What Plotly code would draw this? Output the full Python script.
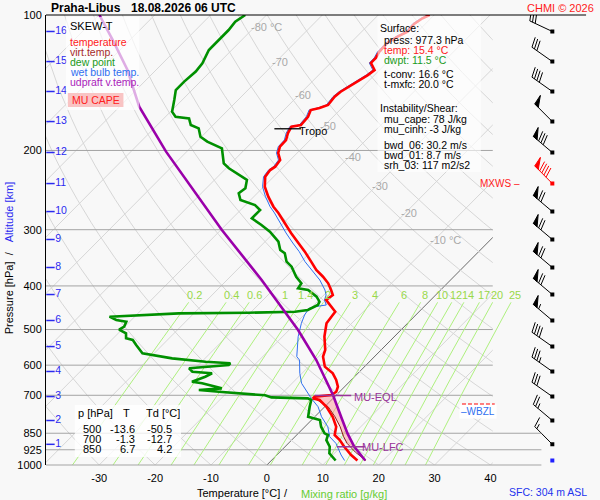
import math
import numpy as np
import plotly.graph_objects as go

# ---- sounding Praha-Libus 18.08.2026 06 UTC (p in hPa, t in degC) ----
temp_p = [100, 101.7, 104.7, 108.9, 111.7, 115.4, 120.7, 124.6, 127.8, 132.5,
          136.0, 139.5, 143.1, 148.1, 151.9, 158.5, 160.9, 162.6, 168.3, 175.6,
          177.1, 182.9, 189.6, 196.2, 202.6, 210.0, 217.3, 221.1, 228.8, 240.8,
          253.4, 266.7, 275.4, 289.8, 305.0, 321.1, 335.7, 353.3, 368.7, 381.6,
          394.7, 408.4, 419.0, 429.9, 444.9, 456.4, 468.2, 484.3, 518.6, 555.0,
          574.4, 604.6, 625.5, 647.3, 669.9, 687.4, 699.1, 705.2, 711.1, 717.2,
          742.1, 781.1, 822.1, 857.7, 880.0, 910.8, 950.1, 977.3]
temp_t = [-50.8, -51.5, -52.0, -51.8, -52.7, -53.4, -53.3, -52.8, -52.8, -50.9,
          -51.2, -51.8, -52.5, -53.1, -53.3, -53.0, -54.0, -55.2, -54.5, -54.3,
          -55.7, -55.2, -54.3, -54.2, -53.4, -51.8, -51.5, -51.8, -51.5, -49.8,
          -47.4, -44.7, -42.7, -39.8, -36.9, -33.8, -31.1, -28.2, -25.8, -23.4,
          -21.3, -19.6, -18.4, -18.7, -16.6, -15.0, -14.8, -14.5, -12.5, -10.0,
          -9.2, -7.1, -4.5, -2.7, -1.2, -0.6, -0.9, -3.6, -3.6, -2.1,
          0.3, 3.2, 5.6, 6.8, 8.6, 10.6, 13.3, 15.4]

dew_p = [100, 103.5, 108.0, 113.6, 119.6, 128.0, 133.6, 140.6, 146.8, 154.5,
         164.1, 168.3, 169.7, 175.6, 178.6, 186.4, 191.2, 197.8, 213.6, 219.1,
         226.7, 232.6, 242.7, 249.0, 257.7, 264.4, 271.3, 283.1, 292.9, 303.1,
         319.0, 332.8, 338.5, 353.3, 362.5, 381.6, 394.7, 404.9, 408.4, 422.7,
         433.6, 441.0, 452.5, 456.4, 458.8, 460.2, 468.2, 476.2, 480.4, 492.8,
         500.0, 509.7, 522.9, 527.5, 541.2, 564.7, 579.4, 589.5, 594.3, 599.5,
         609.7, 620.4, 625.5, 636.5, 653.0, 658.4, 675.5, 681.3, 687.4, 693.2,
         700.0, 707.5, 711.1, 717.2, 742.1, 781.1, 794.3, 822.1, 850.6, 857.7,
         880.0, 910.8, 941.9, 977.3]
dew_t = [-83.8, -84.4, -84.1, -84.1, -84.1, -82.9, -82.6, -82.9, -82.9, -81.4,
         -79.7, -78.2, -75.5, -74.0, -72.0, -70.2, -68.1, -64.3, -61.3, -59.5,
         -56.6, -54.2, -53.0, -53.3, -51.8, -48.3, -46.5, -46.5, -43.6, -40.9,
         -37.6, -35.8, -34.4, -32.6, -30.8, -28.2, -26.1, -25.8, -23.7, -21.0,
         -19.6, -19.3, -20.2, -22.2, -30.3, -42.7, -54.5, -52.7, -50.6, -50.1,
         -50.5, -48.6, -47.7, -46.2, -44.7, -42.1, -35.9, -29.3, -24.6, -24.6,
         -31.1, -29.9, -26.1, -26.7, -28.2, -26.1, -21.7, -25.5, -21.6, -17.8,
         -12.7, -11.2, -4.5, -3.6, -2.7, -1.2, 1.5, 2.9, 4.7, 5.6,
         6.2, 8.0, 9.1, 11.5]

wet_p = [100, 101.7, 104.7, 108.9, 111.7, 115.4, 120.7, 124.6, 127.8, 132.5,
         136.0, 139.5, 143.1, 148.1, 151.9, 158.5, 160.9, 162.6, 168.3, 175.6,
         177.1, 182.9, 189.6, 196.2, 202.6, 210.0, 217.3, 221.1, 228.8, 240.8,
         253.4, 266.7, 275.4, 289.8, 305.0, 321.1, 335.7, 353.3, 368.7,
         388.0, 408.4, 419.0, 429.9, 441.0, 444.9, 448.7, 464.2, 484.3, 518.6,
         574.4, 584.5, 625.5, 658.4, 699.1, 711.1, 742.1, 781.1, 822.1, 865.2,
         895.1, 950.1, 977.3]
wet_t = [-51.1, -51.8, -52.3, -52.1, -53.0, -53.7, -53.6, -53.1, -53.1, -51.2,
         -51.5, -52.1, -52.8, -53.4, -53.6, -53.3, -54.3, -55.5, -54.8, -54.6,
         -56.0, -55.5, -54.6, -54.5, -53.7, -52.1, -51.8, -52.1, -51.8, -50.2,
         -47.9, -45.3, -43.4, -40.6, -37.8, -34.8, -32.1, -29.3, -26.6,
         -23.4, -20.7, -19.6, -19.0, -17.8, -19.6, -20.3, -19.9, -19.0, -17.2,
         -13.9, -12.8, -10.4, -8.3, -4.8, -3.9, -1.2, 1.2, 4.1, 6.2,
         8.5, 11.5, 13.1]

virt_p = [699.1, 705.2, 711.1, 742.1, 781.1, 822.1, 865.2, 895.1, 935.7, 977.3]
virt_t = [-0.8, -3.4, -3.3, 0.6, 3.6, 6.3, 8.7, 10.5, 13.5, 16.9]

parcel_p = [100, 113.6, 132.5, 159.8, 201.2, 221.1, 300.4, 388.0, 501.2, 584.5,
            664.0, 699.1, 781.1, 850.6, 910.8, 977.3]
parcel_t = [-109.9, -103.1, -95.1, -86.5, -73.7, -68.1, -49.8, -33.8, -18.4, -9.8,
            -3.3, -0.6, 4.7, 8.8, 12.4, 16.8]

# significant levels
tropo_p, tropo_t = 179.0, -56.0
eql_p, eql_t = 701.0, -0.5
lfc_p, lfc_t = 911.0, 11.8
fzl_p = 733.0
wbzl_p = 759.0
sfc_p = 977.3

# winds at every km of altitude
alt_km = [16, 15, 14, 13, 12, 11, 10, 9, 8, 7, 6, 5, 4, 3, 2, 1]
alt_p = [108.8, 126.9, 147.9, 172.5, 202.1, 236.9, 273.4, 315.4, 364.0, 418.0,
         477.4, 545.5, 619.7, 704.6, 796.4, 899.6]
wind_dir = [295, 305, 305, 315, 310, 315, 310, 310, 310, 310, 310, 305, 305, 305, 310, 315]
wind_kt = [30, 30, 40, 50, 80, 90, 70, 70, 70, 70, 55, 40, 35, 30, 25, 15]
mxws_km = 11

# table and surface box
table_p = [500, 700, 850]
table_t = [-13.6, -1.3, 6.7]
table_td = [-50.5, -12.7, 4.2]
surface_lines = [("Surface:", "black", 0), ("press: 977.3 hPa", "black", 1),
                 ("temp: 15.4 °C", "#ff1a1a", 1), ("dwpt: 11.5 °C", "#1a9a1a", 1),
                 ("t-conv: 16.6 °C", "black", 1), ("t-mxfc: 20.0 °C", "black", 1),
                 ("Instability/Shear:", "black", 0), ("mu_cape: 78 J/kg", "black", 1),
                 ("mu_cinh: -3 J/kg", "black", 1), ("bwd_06: 30.2 m/s", "black", 1),
                 ("bwd_01: 8.7 m/s", "black", 1), ("srh_03: 117 m2/s2", "black", 1)]
surface_y = [27.7, 40, 50, 60, 74, 84.3, 108.3, 119.3, 129.3, 145, 155, 165]

# diagram furniture
p_levels = [100, 200, 300, 400, 500, 600, 700, 850, 925, 1000]
t_ticks = [-30, -20, -10, 0, 10, 20, 30, 40]
iso_t = list(range(-120, 50, 10))
theta_c = list(range(-30, 190, 10))
mix_w = [0.2, 0.4, 0.6, 1, 1.4, 2, 3, 4, 6, 8, 10, 12, 14, 17, 20, 25]
iso_lab_t = [-80, -70, -60, -50, -40, -30, -20, -10]
iso_lab_p = [106.3, 127.2, 150.6, 176.5, 206.8, 239.9, 275.4, 316.2]

# ---- geometry (page pixels) ----
W, H = 600, 500
L, TOP, BOT = 46, 15, 465
PXDEG = 5.63
X_ZERO = 268.5
K = 450 / PXDEG          # skew in degC per pressure decade (45 deg isotherms)
BG = '#f8f8f8'
FONT = 'Liberation Sans, Arial, sans-serif'
GRAY = '#a4a4a4'
LIGHT = '#d6d6d6'


def xs(t, p):
    return t + K * math.log10(1000.0 / p)


def xd(pix):
    return (pix - X_ZERO) / PXDEG


def px(x):
    return (x - L) / (W - L)


def py(y):
    return (BOT - y) / (BOT - TOP)


def skewed(ts, ps):
    return [xs(t, p) for t, p in zip(ts, ps)]


def dewpoint_of_mix(w, p):
    e = w * p / (622.0 + w)
    a = math.log(e / 6.112)
    return 243.5 * a / (17.67 - a)


fig = go.Figure()

# isotherms and dry adiabats (clipped to main box)
for t in iso_t:
    fig.add_trace(go.Scatter(x=[xs(t, 1000), xs(t, 100)], y=[1000, 100], mode='lines',
                             line=dict(color='#6a6a6a' if t == 0 else LIGHT, width=1),
                             hoverinfo='skip'))
pp = np.geomspace(1000, 100, 40)
for th in theta_c:
    tt = [(th + 273.15) * (p / 1000.0) ** 0.2857 - 273.15 for p in pp]
    fig.add_trace(go.Scatter(x=skewed(tt, pp), y=pp, mode='lines',
                             line=dict(color=LIGHT, width=1), hoverinfo='skip'))


# everything else on the wider x3 subplot
def add3(**kw):
    fig.add_trace(go.Scatter(xaxis='x3', yaxis='y', hoverinfo='skip', **kw))


for p in p_levels[1:-1]:
    right = 545 if p >= 850 else 496
    add3(x=[xd(L), xd(right)], y=[p, p], mode='lines', line=dict(color=GRAY, width=1))

pm = np.geomspace(1000, 435, 20)
for w in mix_w:
    add3(x=[xs(dewpoint_of_mix(w, p), p) for p in pm], y=pm, mode='lines',
         line=dict(color='#aef07e', width=1))

# MU CAPE area between parcel and virtual temperature
pa = [(p, t) for p, t in zip(parcel_p, parcel_t) if eql_p - 2 <= p <= lfc_p]
va = [(p, t) for p, t in zip(virt_p, virt_t) if eql_p <= p <= lfc_p]
poly = pa + [(lfc_p, lfc_t)] + va[::-1]
add3(x=[xs(t, p) for p, t in poly], y=[p for p, t in poly], mode='lines', fill='toself',
     fillcolor='rgba(255,140,140,0.45)', line=dict(width=0))

add3(x=skewed(wet_t, wet_p), y=wet_p, mode='lines', line=dict(color='#2f6ff0', width=1))
add3(x=skewed(virt_t, virt_p), y=virt_p, mode='lines', line=dict(color='#8b1a1a', width=1))
add3(x=skewed(dew_t, dew_p), y=dew_p, mode='lines', line=dict(color='#009000', width=2.6))
add3(x=skewed(temp_t, temp_p), y=temp_p, mode='lines', line=dict(color='#ff0000', width=2.6))
add3(x=skewed(parcel_t, parcel_p), y=parcel_p, mode='lines', line=dict(color='#9a00aa', width=2.6))

# freezing level dash
add3(x=[xd(465), xd(498)], y=[fzl_p, fzl_p], mode='lines',
     line=dict(color='#ff0000', width=1.5, dash='4px,2px'))

# level markers
add3(x=[xs(tropo_t, tropo_p)], y=[tropo_p], mode='markers',
     marker=dict(symbol='line-ew', size=19, line=dict(color='black', width=1.3)))
add3(x=[xs(eql_t, eql_p)], y=[eql_p], mode='markers',
     marker=dict(symbol='line-ew', size=26, line=dict(color='#993399', width=1.5)))
add3(x=[xs(lfc_t, lfc_p)], y=[lfc_p], mode='markers',
     marker=dict(symbol='line-ew', size=20, line=dict(color='#993399', width=1.5)))

# altitude ticks
add3(x=[xd(50.5)] * len(alt_km), y=alt_p, mode='markers+text',
     marker=dict(symbol='line-ew', size=6, line=dict(color='#2a2af0', width=1.5)),
     text=[str(k) for k in alt_km], textposition='middle right',
     textfont=dict(color='#2a2af0', size=10.5))

# ---- wind barbs on x2/y2 (1 unit = 450 px on both axes) ----
U = 1 / 450.0
BX = 56 * U


def barb(p, d, kt):
    ay = math.log10(p)
    sx, sy = math.sin(math.radians(d)), math.cos(math.radians(d))

    def pt(a, q):
        e = sx * a + sy * q
        n = sy * a - sx * q
        return BX + e * U, ay - n * U

    segs = [[pt(0, 0), pt(25, 0)]]
    flags = []
    pos = 25
    n50, rest = divmod(int(round(kt / 5.0) * 5), 50)
    n10, n5 = divmod(rest, 10)
    for _ in range(n50):
        flags.append([pt(pos, 0), pt(pos + 2, 10), pt(pos - 5, 0)])
        pos -= 7
    for _ in range(n10):
        segs.append([pt(pos, 0), pt(pos + 3, 10)])
        pos -= 3
    if n5:
        if pos == 25:
            pos -= 3
        segs.append([pt(pos, 0), pt(pos + 1.5, 5)])
    return segs, flags


for km, p, d, kt in zip(alt_km, alt_p, wind_dir, wind_kt):
    col = '#ff0000' if km == mxws_km else 'black'
    segs, flags = barb(p, d, kt)
    lx, ly = [], []
    for s in segs:
        lx += [s[0][0], s[1][0], None]
        ly += [s[0][1], s[1][1], None]
    fig.add_trace(go.Scatter(x=lx, y=ly, xaxis='x2', yaxis='y2', mode='lines',
                             line=dict(color=col, width=1), hoverinfo='skip'))
    if flags:
        fx, fy = [], []
        for f in flags:
            fx += [q[0] for q in f] + [f[0][0], None]
            fy += [q[1] for q in f] + [f[0][1], None]
        fig.add_trace(go.Scatter(x=fx, y=fy, xaxis='x2', yaxis='y2', mode='lines',
                                 fill='toself', fillcolor=col, line=dict(color=col, width=1),
                                 hoverinfo='skip'))
    fig.add_trace(go.Scatter(x=[BX], y=[math.log10(p)], xaxis='x2', yaxis='y2', mode='markers',
                             marker=dict(symbol='square', size=4, color=col), hoverinfo='skip'))
fig.add_trace(go.Scatter(x=[BX], y=[math.log10(sfc_p)], xaxis='x2', yaxis='y2', mode='markers',
                         marker=dict(symbol='square', size=4, color='#2020ff'), hoverinfo='skip'))

# ---- shapes: frame lines and text boxes ----
shapes = [
    dict(type='line', xref='paper', yref='paper', x0=px(L), x1=px(590), y0=1, y1=1,
         line=dict(color='black', width=1)),
    dict(type='line', xref='paper', yref='paper', x0=px(L), x1=px(545), y0=0, y1=0,
         line=dict(color=GRAY, width=1)),
    dict(type='rect', xref='paper', yref='paper', x0=px(66), x1=px(140), y0=py(110), y1=py(17),
         fillcolor='rgba(255,255,255,0.68)', line=dict(width=0), layer='above'),
    dict(type='rect', xref='paper', yref='paper', x0=px(68), x1=px(124), y0=py(107), y1=py(93),
         fillcolor='#f9c4c4', line=dict(width=0), layer='above'),
    dict(type='rect', xref='paper', yref='paper', x0=px(380), x1=px(484), y0=py(172), y1=py(16),
         fillcolor='rgba(255,255,255,0.62)', line=dict(width=0), layer='above'),
    dict(type='rect', xref='paper', yref='paper', x0=px(75), x1=px(182), y0=py(457), y1=py(405),
         fillcolor='rgba(255,255,255,0.8)', line=dict(width=0), layer='above'),
]

anns = []


def note(x, y, text, color='black', size=10.5, xanchor='left', **kw):
    anns.append(dict(xref='paper', yref='paper', x=px(x), y=py(y), text=text, showarrow=False,
                     xanchor=xanchor, yanchor='middle', font=dict(color=color, size=size), **kw))


def note_p(x, p, text, color, size=11, xref='x3', xanchor='left', xshift=0, yshift=0, **kw):
    anns.append(dict(xref=xref, yref='y', x=x, y=math.log10(p), text=text, showarrow=False,
                     xanchor=xanchor, yanchor='middle', xshift=xshift, yshift=yshift,
                     font=dict(color=color, size=size), **kw))


# title
note(49, 7.5, '<b>Praha-Libus</b>', size=12)
note(130, 7.5, '<b>18.08.2026 06 UTC</b>', size=12)
note(528, 7.5, 'CHMI © 2026', color='#ff1a1a', size=11)

# legend box
note(68, 26, 'SKEW-T', size=11)
legend = [('temperature', '#ff1a1a', 42.3), ('virt.temp.', '#a52a2a', 52.3),
          ('dew point', '#1a9a1a', 62), ('wet bulb temp.', '#2f6ff0', 72),
          ('udpraft v.temp.', '#aa22bb', 81.7)]
for txt, c, y in legend:
    note(68, y, txt, color=c, size=10.5)
note(96, 100.5, 'MU CAPE', color='#ff2020', size=10.5, xanchor='center')

# surface box
for (txt, c, ind), y in zip(surface_lines, surface_y):
    note(380 + 4 * ind, y, txt, color=c, size=10.5)

# table
note(76, 413.3, 'p [hPa]', size=11)
note(127, 413.3, 'T', size=11, xanchor='center')
note(145, 413.3, 'Td [°C]', size=11)
for i, (p, t, td) in enumerate(zip(table_p, table_t, table_td)):
    y = 429 + 9.8 * i
    note(103, y, str(p), size=11, xanchor='right')
    note(138, y, '%.1f' % t, size=11, xanchor='right')
    note(175, y, '%.1f' % td, size=11, xanchor='right')

# axis titles
note(196, 493, 'Temperature [°C]', size=11)
note(288, 493, '/', size=11, xanchor='center')
note(301, 494, 'Mixing ratio [g/kg]', color='#66cc33', size=11)
note(510, 492, 'SFC: 304 m ASL', color='#2233ee', size=10.5)
note(9, 298, 'Pressure [hPa]', size=11, xanchor='center', textangle=-90)
note(9, 253, '/', size=11, xanchor='center', textangle=-90)
note(9, 212, 'Altitude [km]', color='#2a2af0', size=11, xanchor='center', textangle=-90)

# isotherm and mixing ratio labels
for t, p in zip(iso_lab_t, iso_lab_p):
    lab = '%d °C' % t if t in (-80, -10) else str(t)
    note_p(xs(t, p), p, lab, '#a8a8a8', size=11, xref='x', xshift=-6)
for w in mix_w:
    lab = ('%g' % w)
    note_p(xs(dewpoint_of_mix(w, 419), 419), 419, lab, '#99d94a', size=11, xanchor='center')

# level labels
note_p(xs(tropo_t, tropo_p), tropo_p, 'Tropo', 'black', size=11, xshift=9, yshift=-2)
note_p(xs(eql_t, eql_p), eql_p, 'MU-EQL', '#993399', size=11, xshift=19, yshift=-1)
note_p(xs(lfc_t, lfc_p), lfc_p, 'MU-LFC', '#993399', size=11, xshift=9)
anns.append(dict(xref='paper', yref='y', x=px(481), y=math.log10(alt_p[alt_km.index(mxws_km)]),
                 text='MXWS –', showarrow=False, xanchor='left', yanchor='middle',
                 font=dict(color='#ff1a1a', size=10)))
anns.append(dict(xref='paper', yref='y', x=px(462), y=math.log10(wbzl_p), text='–WBZL',
                 showarrow=False, xanchor='left', yanchor='middle', bgcolor='white', borderpad=1,
                 font=dict(color='#2f6ff0', size=10)))

fig.update_layout(
    width=W, height=H,
    margin=dict(l=L, r=0, t=TOP, b=H - BOT),
    paper_bgcolor=BG, plot_bgcolor='rgba(0,0,0,0)',
    showlegend=False,
    font=dict(family=FONT, size=11, color='black'),
    shapes=shapes, annotations=anns,
    xaxis=dict(domain=[0, px(496)], range=[xd(L), xd(496)], showgrid=False, zeroline=False,
               tickmode='array', tickvals=t_ticks, ticktext=[str(t) for t in t_ticks],
               ticks='', ticklabelstandoff=5, showline=False, tickfont=dict(size=11)),
    yaxis=dict(type='log', range=[3, 2], domain=[0, 1], tickmode='array', tickvals=p_levels,
               ticktext=[str(p) for p in p_levels], showgrid=False, zeroline=False,
               showline=True, linecolor='black', linewidth=1, ticks='', ticklabelstandoff=1,
               tickfont=dict(size=11)),
    xaxis2=dict(domain=[px(500), 1], range=[0, 100 * U], anchor='y2', visible=False),
    yaxis2=dict(domain=[0, 1], range=[3, 2], anchor='x2', visible=False),
    xaxis3=dict(domain=[0, 1], range=[xd(L), xd(W)], anchor='y', visible=False),
)

# the page body margin would shift the 600x500 figure, so drop it
fig.write_html('out.html', config={'displayModeBar': False},
               post_script="document.body.style.margin='0px';")
